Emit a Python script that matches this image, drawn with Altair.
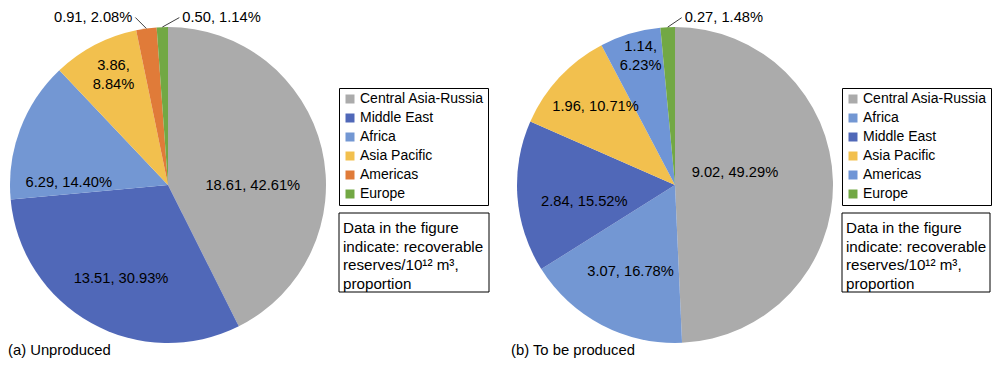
import altair as alt
import pandas as pd

# ---------------- data ----------------
# (a) Unproduced
regions_a = ["Central Asia-Russia", "Middle East", "Africa", "Asia Pacific", "Americas", "Europe"]
reserves_a = [18.61, 13.51, 6.29, 3.86, 0.91, 0.50]
shares_a = [42.61, 30.93, 14.40, 8.84, 2.08, 1.14]
colors_a = ["#ABABAB", "#5068B8", "#7397D3", "#F2C04E", "#E07B39", "#72A844"]

# (b) To be produced
regions_b = ["Central Asia-Russia", "Africa", "Middle East", "Asia Pacific", "Americas", "Europe"]
reserves_b = [9.02, 3.07, 2.84, 1.96, 1.14, 0.27]
shares_b = [49.29, 16.78, 15.52, 10.71, 6.23, 1.48]
colors_b = ["#ABABAB", "#7397D3", "#5068B8", "#F2C04E", "#6F95D6", "#72A844"]

note_lines = ["Data in the figure", "indicate: recoverable", "reserves/10\u00b9\u00b2 m\u00b3,", "proportion"]
captions = ["(a) Unproduced", "(b) To be produced"]

FONT = "Liberation Sans"
R = 158


def make_df(regions, reserves, shares):
    return pd.DataFrame({
        "idx": list(range(len(regions))),
        "region": regions,
        "value": reserves,
        "share": shares,
        "label": [f"{v:.2f}, {s:.2f}%" for v, s in zip(reserves, shares)],
        "label2": [f"{v:.2f},\n{s:.2f}%" for v, s in zip(reserves, shares)],
    })


def pie(df, cx, cy, colors, inner, outer, legend_x, legend_y):
    domain = list(df["region"])
    base = alt.Chart(df)
    layers = [
        base.mark_arc(outerRadius=R).encode(
            theta=alt.Theta("value:Q", stack=True),
            order=alt.Order("idx:Q"),
            color=alt.Color(
                "region:N",
                scale=alt.Scale(domain=domain, range=colors),
                sort=domain,
                legend=alt.Legend(
                    orient="none", legendX=legend_x, legendY=legend_y, title=None,
                    strokeColor="black", fillColor="white", padding=4, cornerRadius=0,
                    symbolType="square", symbolSize=81, symbolStrokeWidth=0,
                    labelFont=FONT, labelFontSize=14, labelColor="black",
                    labelOffset=3, rowPadding=5, labelLimit=300,
                ),
            ),
            x=alt.value(cx), y=alt.value(cy),
        )
    ]
    for reg, field, rad, dx, dy in inner:
        layers.append(
            base.transform_calculate(
                t=f"datum.region === '{reg}' ? datum.{field} : ''"
            ).mark_text(
                radius=rad, dx=dx, dy=dy, font=FONT, fontSize=14.7, color="black",
                lineBreak="\n", lineHeight=19, align="center", baseline="middle",
            ).encode(
                theta=alt.Theta("value:Q", stack=True),
                order=alt.Order("idx:Q"),
                text=alt.Text("t:N"),
                x=alt.value(cx), y=alt.value(cy),
            )
        )
    for reg, ldx, ldy, side in outer:
        lead = base.transform_joinaggregate(total="sum(value)").transform_window(
            cum="sum(value)", sort=[alt.SortField("idx")], frame=[None, 0]
        ).transform_calculate(
            mid="2*PI*(datum.cum - datum.value/2)/datum.total"
        ).transform_filter(
            alt.datum.region == reg
        ).transform_calculate(
            x0=f"{cx} + {R}*sin(datum.mid)",
            y0=f"{cy} - {R}*cos(datum.mid)",
        ).transform_calculate(
            x1=f"datum.x0 + ({ldx})",
            y1=f"datum.y0 + ({ldy})",
        )
        layers.append(
            lead.mark_rule(color="#404040", strokeWidth=1).encode(
                x=alt.X("x0:Q", scale=None, axis=None),
                y=alt.Y("y0:Q", scale=None, axis=None),
                x2="x1:Q", y2="y1:Q",
            )
        )
        layers.append(
            lead.mark_text(
                font=FONT, fontSize=14.7, color="black", baseline="middle",
                align="left" if side > 0 else "right", dx=3 * side, dy=0.5,
            ).encode(
                x=alt.X("x1:Q", scale=None, axis=None),
                y=alt.Y("y1:Q", scale=None, axis=None),
                text="label:N",
            )
        )
    return alt.layer(*layers)


def note(x, x2, tx):
    d = pd.DataFrame({"note": ["\n".join(note_lines)]})
    box = alt.Chart(d).mark_rect(fill="white", stroke="black", strokeWidth=1).encode(
        x=alt.value(x), x2=alt.value(x2), y=alt.value(205), y2=alt.value(284)
    )
    txt = alt.Chart(d).mark_text(
        font=FONT, fontSize=15.2, color="black", align="left", baseline="middle",
        lineBreak="\n", lineHeight=18.7,
    ).encode(x=alt.value(tx), y=alt.value(220), text="note:N")
    return alt.layer(box, txt)


def caption(text, x):
    d = pd.DataFrame({"cap": [text]})
    return alt.Chart(d).mark_text(
        font=FONT, fontSize=14.8, color="black", align="left", baseline="middle"
    ).encode(x=alt.value(x), y=alt.value(343), text="cap:N")


df_a = make_df(regions_a, reserves_a, shares_a)
df_b = make_df(regions_b, reserves_b, shares_b)

pie_a = pie(
    df_a, 160, 177, colors_a,
    inner=[
        ("Central Asia-Russia", "label", 84, 3, 20),
        ("Middle East", "label", 105, 4, 2),
        ("Africa", "label", 105, -1, 35),
        ("Asia Pacific", "label2", 118, 0, -14),
    ],
    outer=[("Americas", -11, -11, -1), ("Europe", 17, -9.5, 1)],
    legend_x=331, legend_y=80,
)
pie_b = pie(
    df_b, 667, 177, colors_b,
    inner=[
        ("Central Asia-Russia", "label", 60, 0, -11),
        ("Africa", "label", 98, 1, 0),
        ("Middle East", "label", 91, 0, 10),
        ("Asia Pacific", "label", 110, 1, -3),
        ("Americas", "label2", 133, 3.5, -10.5),
    ],
    outer=[("Europe", 14, -9.5, 1)],
    legend_x=834, legend_y=80,
)

chart = alt.layer(
    pie_a, pie_b,
    note(331, 481, 335), note(834, 982, 838),
    caption(captions[0], 0), caption(captions[1], 503),
).resolve_scale(
    theta="independent", color="independent"
).properties(
    width=984, height=351, autosize="none", padding=0
).configure_view(stroke=None)

chart.save("out.html", embed_options={"renderer": "svg", "actions": False})
